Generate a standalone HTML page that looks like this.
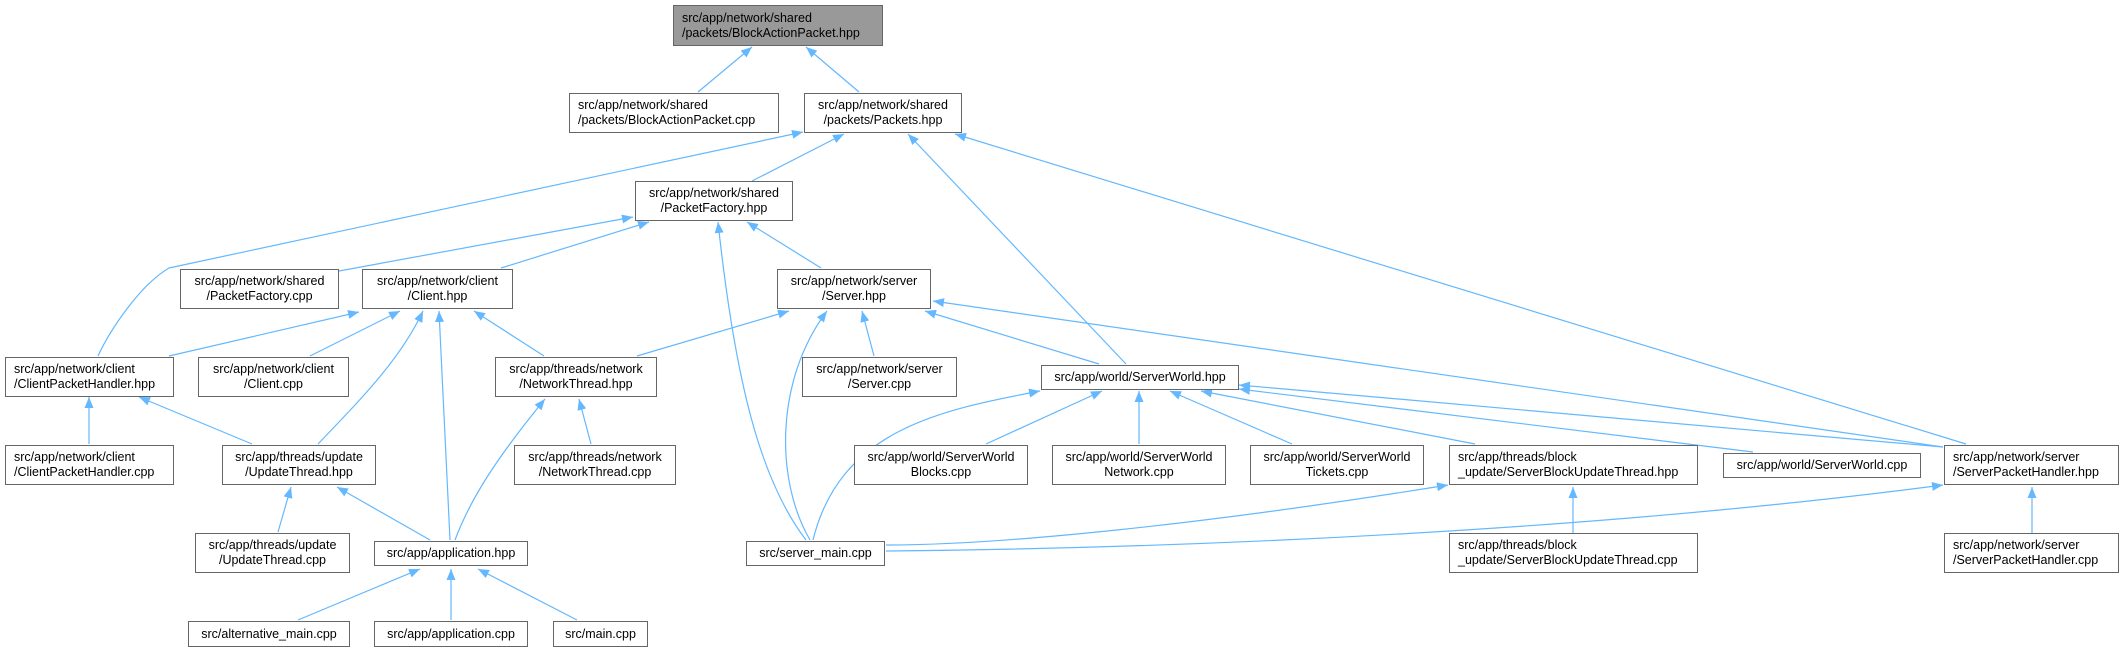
<!DOCTYPE html>
<html><head><meta charset="utf-8"><style>
body{margin:0;background:#fff;width:2125px;height:652px;overflow:hidden;position:relative;font-family:"Liberation Sans",Arial,sans-serif}
.n{position:absolute;box-sizing:border-box;border:1px solid #666;background:#fff;font-size:12.5px;line-height:15px;color:#000;text-align:center;display:flex;align-items:center;justify-content:center;white-space:nowrap}
.l{text-align:left;justify-content:flex-start;padding-left:8px}
svg{position:absolute;left:0;top:0}
</style></head><body>
<svg width="2125" height="652" viewBox="0 0 2125 652">
<defs><marker id="a" markerUnits="userSpaceOnUse" markerWidth="11" markerHeight="9" refX="0" refY="4.5" orient="auto"><path d="M11,0 L0,4.5 L11,9 z" fill="#63b8ff"/></marker></defs>
<g fill="none" stroke="#63b8ff" stroke-width="1.2" marker-start="url(#a)">
<path d="M752,47 L698,92"/>
<path d="M806,47 L859,92"/>
<path d="M803,132 L169,268 C140,285 110,330 98,356"/>
<path d="M844,134 L752,181"/>
<path d="M908,134 L1126,364"/>
<path d="M955,134 L1966,444"/>
<path d="M633,217 L339,271"/>
<path d="M649,222 L501,268"/>
<path d="M718,222 C735,380 760,480 806,540"/>
<path d="M747,222 L821,268"/>
<path d="M359,312 L169,356"/>
<path d="M400,311 L310,356"/>
<path d="M423,311 C400,360 360,400 318,444"/>
<path d="M439,311 L450,540"/>
<path d="M474,311 L544,356"/>
<path d="M789,311 L637,356"/>
<path d="M827,311 C775,380 775,480 810,540"/>
<path d="M862,311 L874,356"/>
<path d="M925,311 L1099,364"/>
<path d="M933,301 L1943,447"/>
<path d="M89,397 L89,444"/>
<path d="M139,397 L252,444"/>
<path d="M545,399 C495,460 470,500 455,540"/>
<path d="M579,399 L591,444"/>
<path d="M1040,391 C940,410 840,430 813,540"/>
<path d="M1102,391 L986,444"/>
<path d="M1139,391 L1139,444"/>
<path d="M1170,391 L1292,444"/>
<path d="M1201,391 L1475,444"/>
<path d="M1239,389 L1753,452"/>
<path d="M1239,385 L1943,447"/>
<path d="M291,487 L278,532"/>
<path d="M337,487 L430,540"/>
<path d="M1448,485 C1200,525 1000,545 886,545"/>
<path d="M1573,487 L1573,533"/>
<path d="M1943,485 C1600,530 1200,548 886,551"/>
<path d="M2032,487 L2032,533"/>
<path d="M420,569 L298,620"/>
<path d="M451,569 L451,620"/>
<path d="M478,569 L577,620"/>
</g></svg>
<div class="n l" style="left:673px;top:5px;width:210px;height:41px;background:#999">src/app/network/shared<br>/packets/BlockActionPacket.hpp</div>
<div class="n l" style="left:569px;top:93px;width:210px;height:40px">src/app/network/shared<br>/packets/BlockActionPacket.cpp</div>
<div class="n" style="left:804px;top:93px;width:158px;height:40px">src/app/network/shared<br>/packets/Packets.hpp</div>
<div class="n" style="left:635px;top:181px;width:158px;height:40px">src/app/network/shared<br>/PacketFactory.hpp</div>
<div class="n" style="left:180px;top:269px;width:159px;height:40px">src/app/network/shared<br>/PacketFactory.cpp</div>
<div class="n" style="left:362px;top:269px;width:151px;height:40px">src/app/network/client<br>/Client.hpp</div>
<div class="n" style="left:777px;top:269px;width:154px;height:40px">src/app/network/server<br>/Server.hpp</div>
<div class="n l" style="left:5px;top:357px;width:169px;height:40px">src/app/network/client<br>/ClientPacketHandler.hpp</div>
<div class="n" style="left:198px;top:357px;width:151px;height:40px">src/app/network/client<br>/Client.cpp</div>
<div class="n" style="left:495px;top:357px;width:162px;height:40px">src/app/threads/network<br>/NetworkThread.hpp</div>
<div class="n" style="left:802px;top:357px;width:155px;height:40px">src/app/network/server<br>/Server.cpp</div>
<div class="n" style="left:1041px;top:365px;width:198px;height:25px">src/app/world/ServerWorld.hpp</div>
<div class="n l" style="left:5px;top:445px;width:169px;height:40px">src/app/network/client<br>/ClientPacketHandler.cpp</div>
<div class="n" style="left:222px;top:445px;width:154px;height:40px">src/app/threads/update<br>/UpdateThread.hpp</div>
<div class="n" style="left:514px;top:445px;width:162px;height:40px">src/app/threads/network<br>/NetworkThread.cpp</div>
<div class="n" style="left:854px;top:445px;width:174px;height:40px">src/app/world/ServerWorld<br>Blocks.cpp</div>
<div class="n" style="left:1052px;top:445px;width:174px;height:40px">src/app/world/ServerWorld<br>Network.cpp</div>
<div class="n" style="left:1250px;top:445px;width:174px;height:40px">src/app/world/ServerWorld<br>Tickets.cpp</div>
<div class="n l" style="left:1449px;top:445px;width:249px;height:40px">src/app/threads/block<br>_update/ServerBlockUpdateThread.hpp</div>
<div class="n" style="left:1723px;top:453px;width:198px;height:25px">src/app/world/ServerWorld.cpp</div>
<div class="n l" style="left:1944px;top:445px;width:175px;height:40px">src/app/network/server<br>/ServerPacketHandler.hpp</div>
<div class="n" style="left:195px;top:533px;width:155px;height:40px">src/app/threads/update<br>/UpdateThread.cpp</div>
<div class="n" style="left:374px;top:541px;width:154px;height:25px">src/app/application.hpp</div>
<div class="n" style="left:746px;top:541px;width:139px;height:25px">src/server_main.cpp</div>
<div class="n l" style="left:1449px;top:533px;width:249px;height:40px">src/app/threads/block<br>_update/ServerBlockUpdateThread.cpp</div>
<div class="n l" style="left:1944px;top:533px;width:175px;height:40px">src/app/network/server<br>/ServerPacketHandler.cpp</div>
<div class="n" style="left:188px;top:621px;width:162px;height:26px">src/alternative_main.cpp</div>
<div class="n" style="left:374px;top:621px;width:154px;height:26px">src/app/application.cpp</div>
<div class="n" style="left:553px;top:621px;width:95px;height:26px">src/main.cpp</div>
</body></html>
